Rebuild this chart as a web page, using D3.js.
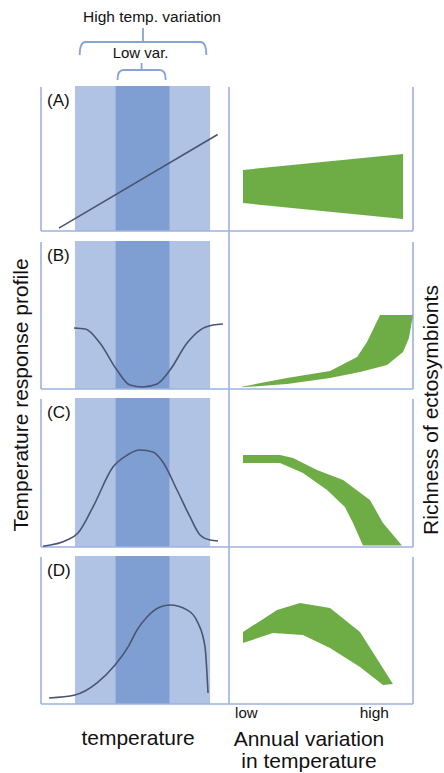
<!DOCTYPE html>
<html>
<head>
<meta charset="utf-8">
<script src="https://cdn.jsdelivr.net/npm/d3@7"></script>
<style>
  body { margin: 0; background: #fff; }
  text { font-family: "Liberation Sans", Arial, sans-serif; fill: #111; }
</style>
</head>
<body>
<div id="chart"></div>
<script>
// panel labels
let panelLabels = ["(A)", "(B)", "(C)", "(D)"];

// temperature ranges (temperature units 0-100)
let highVarBand = [18.5, 90];
let lowVarBand = [40, 68.5];
let highVarBrace = [21, 88];
let lowVarBrace = [41, 66.5];

// temperature response profiles [temperature, response]
let profileA = [[10, 2], [94, 67]];
let profileB = [[18, 41.5], [24, 40.8], [31.7, 31.3], [40.7, 12.9], [47.6, 2.7], [54.5, 1.4],
  [61.9, 3.4], [68.8, 12.9], [77.8, 31.3], [84.7, 40.1], [91.5, 43.5], [96.8, 44.2]];
let profileC = [[1.6, 0.5], [14.3, 4.7], [20.1, 9.5], [28, 27], [38.6, 54], [46, 62], [52.9, 65.5],
  [59.8, 64.2], [65, 57.4], [72.5, 38.5], [79.4, 20.3], [84.7, 8.1], [90, 4.7], [94.2, 4.1]];
let profileD = [[4.8, 4.1], [18.5, 6.1], [30.2, 14.3], [39.7, 26.5], [46.6, 38.8], [51.3, 50.3],
  [56.6, 59.2], [63.5, 66], [68.8, 67.3], [77.8, 64], [83.6, 55.1], [87.3, 38.8], [88.9, 7.5]];

// richness envelopes [annual variation, richness], upper and lower edges
let richUpperA = [[7.6, 42.4], [94.6, 53.5]];
let richLowerA = [[7.6, 19.4], [94.6, 8.3]];
let richUpperB = [[7.1, 1.6], [31.5, 7.5], [54.9, 12.2], [69.6, 21.8], [75, 32], [82.1, 50.3], [100, 50.3]];
let richLowerB = [[7.1, 1.2], [31.5, 3.4], [54.9, 7.5], [71.2, 11.6], [85.9, 16.3], [94.6, 25.2], [97.8, 34.7], [100, 50.3]];
let richUpperC = [[7.6, 62.2], [27.7, 62.2], [34.8, 60.1], [47.8, 52], [62, 45.3], [76.6, 31.8], [83.7, 16.2], [94, 1]];
let richLowerC = [[7.6, 56.8], [27.7, 56.8], [40.2, 50], [53.3, 38.5], [63, 27], [67.4, 16.2], [72.8, 1]];
let richUpperD = [[7.6, 49], [26.1, 63.9], [38.6, 68.7], [54.9, 65.3], [71.2, 49], [89.1, 13.6]];
let richLowerD = [[7.6, 41.5], [23.9, 48.3], [40.2, 46.9], [54.9, 38.1], [71.2, 25.2], [83.7, 12.9]];

let profiles = [profileA, profileB, profileC, profileD];
let richUpper = [richUpperA, richUpperB, richUpperC, richUpperD];
let richLower = [richLowerA, richLowerB, richLowerC, richLowerD];

// layout
let width = 444, height = 773;
let rowTop = [87, 242, 399, 557];
let rowBottom = [231, 389, 547, 704];
let leftX = 41, midX = 229, rightX = 413;

let frameColor = "#9db2df";
let lightBand = "#b0c3e4";
let darkBand = "#7f9fd3";
let curveColor = "#4a5570";
let green = "#6ead46";

let svg = d3.select("#chart")
  .append("svg")
  .attr("width", width)
  .attr("height", height);

let xTemp = d3.scaleLinear().domain([0, 100]).range([40, midX]);
let xVar = d3.scaleLinear().domain([0, 100]).range([midX, rightX]);

rowTop.forEach(function(top, i) {
  let bottom = rowBottom[i];
  let y = d3.scaleLinear().domain([0, 100]).range([bottom, top]);
  let g = svg.append("g");

  // temperature bands
  g.append("rect")
    .attr("x", xTemp(highVarBand[0]))
    .attr("y", top - 1)
    .attr("width", xTemp(highVarBand[1]) - xTemp(highVarBand[0]))
    .attr("height", bottom - top + 1)
    .attr("fill", lightBand);
  g.append("rect")
    .attr("x", xTemp(lowVarBand[0]))
    .attr("y", top - 1)
    .attr("width", xTemp(lowVarBand[1]) - xTemp(lowVarBand[0]))
    .attr("height", bottom - top + 1)
    .attr("fill", darkBand);

  // frame lines
  g.append("line")
    .attr("x1", leftX).attr("x2", leftX)
    .attr("y1", top).attr("y2", bottom)
    .attr("stroke", frameColor).attr("stroke-width", 1.6);
  g.append("line")
    .attr("x1", rightX).attr("x2", rightX)
    .attr("y1", top).attr("y2", bottom)
    .attr("stroke", frameColor).attr("stroke-width", 1.6);
  g.append("line")
    .attr("x1", leftX).attr("x2", rightX)
    .attr("y1", bottom).attr("y2", bottom)
    .attr("stroke", frameColor).attr("stroke-width", 1.6);

  // response profile
  let line = d3.line()
    .x(function(d) { return xTemp(d[0]); })
    .y(function(d) { return y(d[1]); })
    .curve(i == 0 ? d3.curveLinear : d3.curveMonotoneX);
  g.append("path")
    .attr("d", line(profiles[i]))
    .attr("fill", "none")
    .attr("stroke", curveColor)
    .attr("stroke-width", 1.6);

  // richness envelope
  let outline = richUpper[i].concat(richLower[i].slice().reverse());
  let poly = d3.line()
    .x(function(d) { return xVar(d[0]); })
    .y(function(d) { return y(d[1]); });
  g.append("path")
    .attr("d", poly(outline) + "Z")
    .attr("fill", green);

  g.append("text")
    .attr("x", 47)
    .attr("y", top + 19)
    .attr("font-size", 17)
    .text(panelLabels[i]);
});

// shared middle axis line
svg.append("line")
  .attr("x1", midX).attr("x2", midX)
  .attr("y1", rowTop[0]).attr("y2", rowBottom[3])
  .attr("stroke", frameColor).attr("stroke-width", 1.6);

// braces on top
function brace(span, yLine, drop, tick) {
  let x0 = xTemp(span[0]), x1 = xTemp(span[1]), xm = (x0 + x1) / 2;
  let p = d3.path();
  p.moveTo(x0, yLine + drop);
  p.quadraticCurveTo(x0, yLine, x0 + 6, yLine);
  p.lineTo(x1 - 6, yLine);
  p.quadraticCurveTo(x1, yLine, x1, yLine + drop);
  p.moveTo(xm, yLine);
  p.lineTo(xm, yLine - tick);
  svg.append("path")
    .attr("d", p.toString())
    .attr("fill", "none")
    .attr("stroke", "#88a3d6")
    .attr("stroke-width", 1.8);
  return xm;
}

let hx = brace(highVarBrace, 42, 13, 14);
let lx = brace(lowVarBrace, 70, 10, 7);

svg.append("text")
  .attr("x", hx + 9).attr("y", 22)
  .attr("text-anchor", "middle")
  .attr("font-size", 15.5)
  .text("High temp. variation");
svg.append("text")
  .attr("x", lx - 1).attr("y", 58)
  .attr("text-anchor", "middle")
  .attr("font-size", 15)
  .text("Low var.");

// axis titles
svg.append("text")
  .attr("transform", "translate(28,395) rotate(-90)")
  .attr("text-anchor", "middle")
  .attr("font-size", 21)
  .text("Temperature response profile");
svg.append("text")
  .attr("transform", "translate(438,410) rotate(-90)")
  .attr("text-anchor", "middle")
  .attr("font-size", 21)
  .text("Richness of ectosymbionts");

svg.append("text")
  .attr("x", 138).attr("y", 745)
  .attr("text-anchor", "middle")
  .attr("font-size", 21)
  .text("temperature");

svg.append("text")
  .attr("x", xVar(3.3)).attr("y", 718)
  .attr("font-size", 15)
  .text("low");
svg.append("text")
  .attr("x", xVar(71)).attr("y", 718)
  .attr("font-size", 15.5)
  .text("high");

svg.append("text")
  .attr("x", 309).attr("y", 746)
  .attr("text-anchor", "middle")
  .attr("font-size", 21)
  .text("Annual variation");
svg.append("text")
  .attr("x", 309).attr("y", 768)
  .attr("text-anchor", "middle")
  .attr("font-size", 21)
  .text("in temperature");
</script>
</body>
</html>
